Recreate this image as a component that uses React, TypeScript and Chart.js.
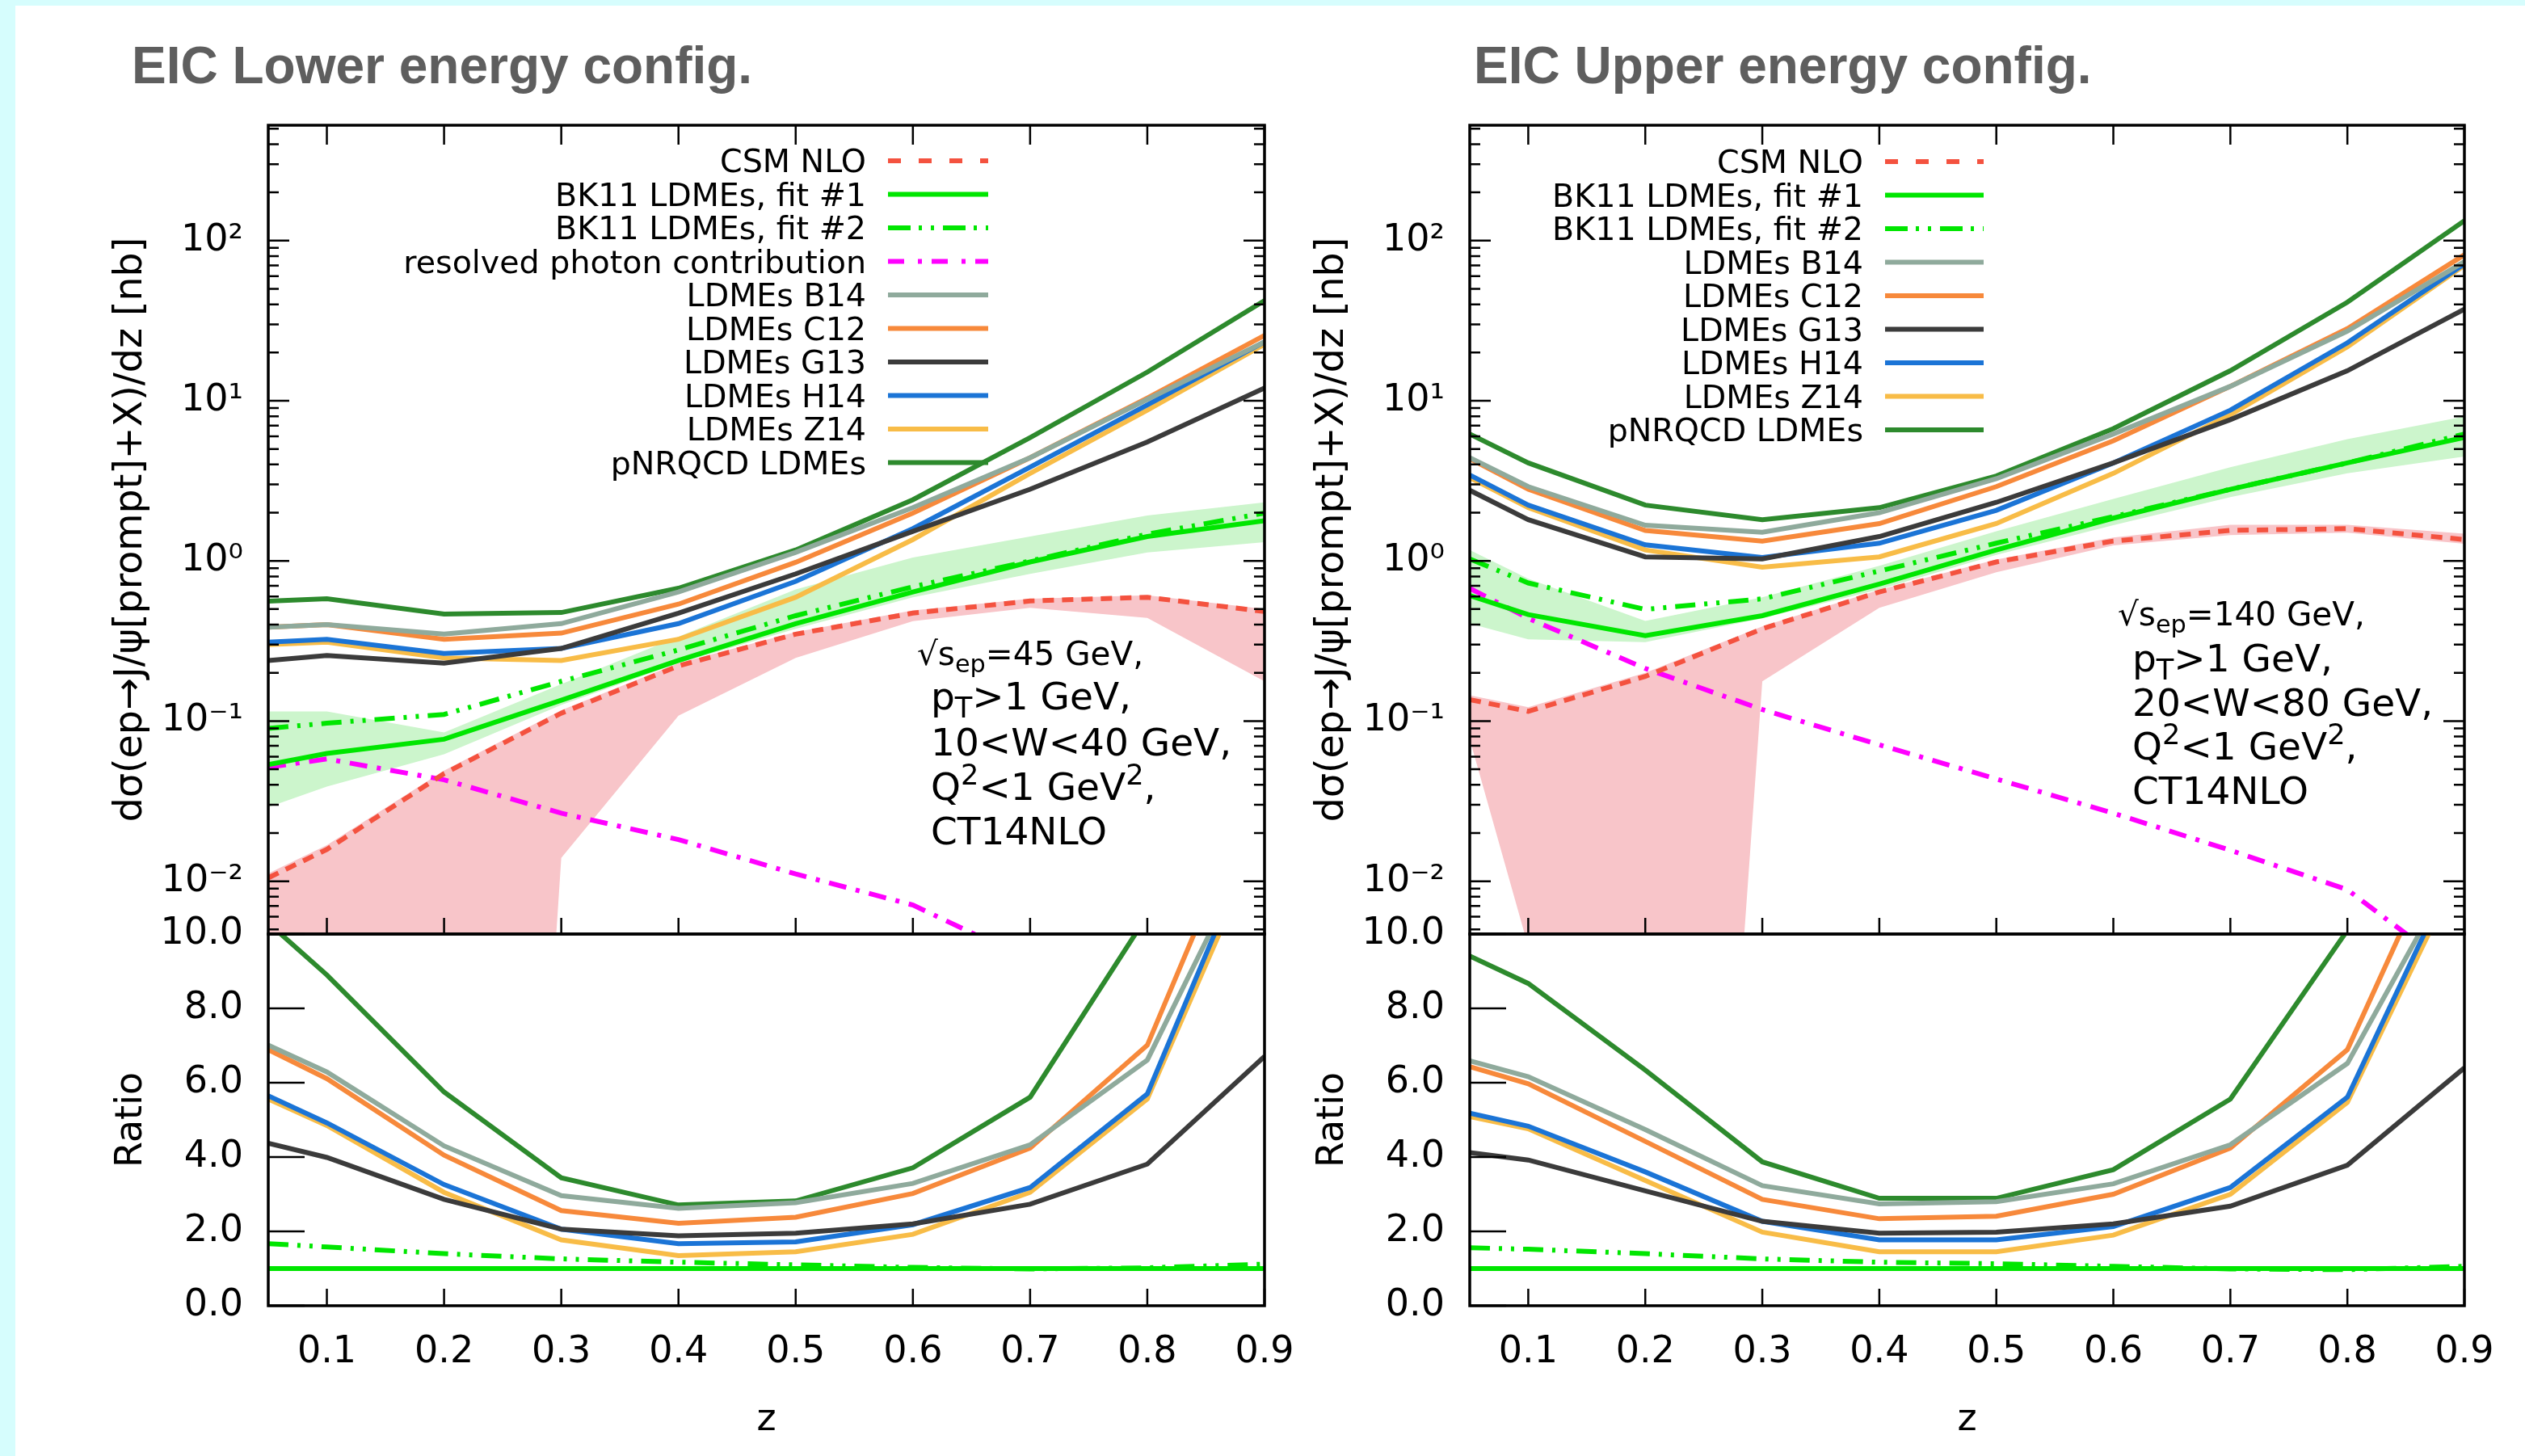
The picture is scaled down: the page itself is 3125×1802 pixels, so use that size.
import React, { useEffect, useRef } from 'react';
import { Chart, registerables } from 'chart.js';

Chart.register(...registerables);

// ---------------- data ----------------
const zValues = [0.05, 0.1, 0.2, 0.3, 0.4, 0.5, 0.6, 0.7, 0.8, 0.9];
const zRange = [0.05, 0.9];
const logRange = [0.00468, 525];
const ratioRange = [0, 10];

const xTickValues = [0.1, 0.2, 0.3, 0.4, 0.5, 0.6, 0.7, 0.8, 0.9];
const xTickLabels = ['0.1', '0.2', '0.3', '0.4', '0.5', '0.6', '0.7', '0.8', '0.9'];
const logTickValues = [0.01, 0.1, 1, 10, 100];
const logTickLabels = ['10⁻²', '10⁻¹', '10⁰', '10¹', '10²'];
const ratioTickValues = [0, 2, 4, 6, 8, 10];
const ratioTickLabels = ['0.0', '2.0', '4.0', '6.0', '8.0', '10.0'];

const panelTitles = ['EIC Lower energy config.', 'EIC Upper energy config.'];
const yTitleTop = 'dσ(ep→J/ψ[prompt]+X)/dz [nb]';
const yTitleRatio = 'Ratio';
const xTitle = 'z';

const seriesLabels = {
  csm: 'CSM NLO',
  fit1: 'BK11 LDMEs, fit #1',
  fit2: 'BK11 LDMEs, fit #2',
  resolved: 'resolved photon contribution',
  b14: 'LDMEs B14',
  c12: 'LDMEs C12',
  g13: 'LDMEs G13',
  h14: 'LDMEs H14',
  z14: 'LDMEs Z14',
  pnr: 'pNRQCD LDMEs',
};

// Lower energy (sqrt s = 45 GeV), cross sections [nb]
const csmLower = [0.0105, 0.0158, 0.047, 0.112, 0.221, 0.349, 0.472, 0.562, 0.593, 0.483];
const csmBandUpLower = [0.0112, 0.0168, 0.049, 0.117, 0.23, 0.36, 0.49, 0.58, 0.61, 0.5];
const csmBandLoLower = [0.0001, 0.0001, 1e-13, 0.014, 0.108, 0.248, 0.42, 0.51, 0.44, 0.177];
const fit1Lower = [0.0535, 0.0628, 0.077, 0.135, 0.239, 0.406, 0.64, 0.985, 1.42, 1.78];
const fit1BandUpLower = [0.115, 0.115, 0.085, 0.17, 0.336, 0.664, 1.05, 1.42, 1.92, 2.32];
const fit1BandLoLower = [0.029, 0.039, 0.062, 0.126, 0.23, 0.377, 0.593, 0.83, 1.13, 1.31];
const fit2Lower = [0.09, 0.097, 0.11, 0.177, 0.278, 0.455, 0.69, 1.0, 1.47, 1.99];
const resolvedLower = [0.0515, 0.058, 0.043, 0.0266, 0.0182, 0.0111, 0.0071, 0.0032, 0.0013, 0.0005];
const b14Lower = [0.386, 0.4, 0.349, 0.406, 0.64, 1.13, 2.15, 4.41, 10.2, 23.3];
const c12Lower = [0.386, 0.4, 0.324, 0.354, 0.537, 0.98, 1.99, 4.41, 10.4, 25.6];
const g13Lower = [0.239, 0.257, 0.23, 0.284, 0.472, 0.83, 1.53, 2.8, 5.53, 12.0];
const h14Lower = [0.311, 0.324, 0.264, 0.284, 0.406, 0.745, 1.59, 3.85, 9.42, 23.3];
const z14Lower = [0.3, 0.311, 0.248, 0.239, 0.324, 0.593, 1.36, 3.52, 8.73, 22.5];
const pnrLower = [0.56, 0.58, 0.466, 0.476, 0.675, 1.17, 2.41, 5.89, 15.1, 42.2];

// Lower energy ratios
const ratioFit1Lower = [1, 1, 1, 1, 1, 1, 1, 1, 1, 1];
const ratioFit2Lower = [1.67, 1.58, 1.4, 1.26, 1.17, 1.1, 1.03, 0.99, 1.02, 1.12];
const ratioB14Lower = [7.01, 6.29, 4.3, 2.96, 2.62, 2.77, 3.29, 4.33, 6.61, 13.0];
const ratioC12Lower = [6.89, 6.11, 4.05, 2.56, 2.22, 2.38, 3.02, 4.24, 7.01, 14.5];
const ratioG13Lower = [4.37, 3.99, 2.86, 2.06, 1.88, 1.95, 2.2, 2.73, 3.81, 6.71];
const ratioH14Lower = [5.65, 4.92, 3.26, 2.06, 1.67, 1.72, 2.18, 3.18, 5.7, 13.2];
const ratioZ14Lower = [5.56, 4.85, 3.05, 1.77, 1.35, 1.45, 1.92, 3.05, 5.56, 12.8];
const ratioPnrLower = [10.3, 8.9, 5.75, 3.44, 2.71, 2.82, 3.71, 5.61, 10.5, 23.7];

// Upper energy (sqrt s = 140 GeV), cross sections [nb]
const csmUpper = [0.136, 0.115, 0.19, 0.377, 0.64, 0.985, 1.33, 1.55, 1.59, 1.36];
const csmBandUpUpper = [0.145, 0.122, 0.2, 0.39, 0.66, 1.02, 1.4, 1.68, 1.68, 1.48];
const csmBandLoUpper = [0.077, 0.0039, 1e-11, 0.177, 0.51, 0.85, 1.25, 1.45, 1.5, 1.28];
const fit1Upper = [0.607, 0.462, 0.341, 0.455, 0.716, 1.17, 1.85, 2.8, 4.09, 5.89];
const fit1BandUpUpper = [1.17, 0.773, 0.422, 0.593, 0.933, 1.53, 2.44, 3.85, 5.75, 7.96];
const fit1BandLoUpper = [0.406, 0.324, 0.311, 0.438, 0.664, 1.09, 1.67, 2.5, 3.52, 4.48];
const fit2Upper = [1.03, 0.728, 0.498, 0.58, 0.865, 1.29, 1.89, 2.8, 4.09, 6.2];
const resolvedUpper = [0.674, 0.438, 0.213, 0.118, 0.0711, 0.0435, 0.0266, 0.0156, 0.00885, 0.0025];
const b14Upper = [4.41, 2.91, 1.67, 1.51, 2.0, 3.26, 6.2, 12.3, 27.2, 73.8];
const c12Upper = [4.35, 2.8, 1.55, 1.33, 1.71, 2.91, 5.62, 12.3, 28.2, 81.5];
const g13Upper = [2.76, 1.81, 1.06, 1.03, 1.42, 2.32, 4.09, 7.62, 15.4, 37.3];
const h14Upper = [3.44, 2.23, 1.26, 1.05, 1.29, 2.07, 4.09, 8.73, 23.0, 71.6];
const z14Upper = [3.31, 2.15, 1.17, 0.914, 1.06, 1.71, 3.52, 8.2, 21.7, 70.0];
const pnrUpper = [6.2, 4.09, 2.23, 1.81, 2.15, 3.39, 6.7, 15.4, 41.2, 133];

// Upper energy ratios
const ratioFit1Upper = [1, 1, 1, 1, 1, 1, 1, 1, 1, 1];
const ratioFit2Upper = [1.56, 1.52, 1.4, 1.26, 1.17, 1.13, 1.06, 0.99, 0.97, 1.06];
const ratioB14Upper = [6.59, 6.16, 4.74, 3.23, 2.74, 2.8, 3.28, 4.33, 6.52, 12.2];
const ratioC12Upper = [6.43, 5.97, 4.42, 2.86, 2.34, 2.41, 3.0, 4.24, 6.89, 13.8];
const ratioG13Upper = [4.12, 3.92, 3.09, 2.27, 1.95, 1.98, 2.2, 2.68, 3.78, 6.4];
const ratioH14Upper = [5.18, 4.83, 3.6, 2.27, 1.77, 1.77, 2.13, 3.18, 5.61, 12.3];
const ratioZ14Upper = [5.09, 4.76, 3.37, 1.98, 1.45, 1.45, 1.9, 3.0, 5.47, 12.0];
const ratioPnrUpper = [9.41, 8.67, 6.34, 3.87, 2.89, 2.89, 3.66, 5.56, 10.1, 22.5];

// annotation texts: [text, 'sub'|'sup'|undefined]
const noteLower = [
  [['√s'], ['ep', 'sub'], ['=45 GeV,']],
  [['p'], ['T', 'sub'], ['>1 GeV,']],
  [['10<W<40 GeV,']],
  [['Q'], ['2', 'sup'], ['<1 GeV'], ['2', 'sup'], [',']],
  [['CT14NLO']],
];
const noteUpper = [
  [['√s'], ['ep', 'sub'], ['=140 GeV,']],
  [['p'], ['T', 'sub'], ['>1 GeV,']],
  [['20<W<80 GeV,']],
  [['Q'], ['2', 'sup'], ['<1 GeV'], ['2', 'sup'], [',']],
  [['CT14NLO']],
];

// ---------------- styles ----------------
const FONT = '"DejaVu Sans", "Noto Sans", sans-serif';
const CYAN = '#d6fdfd';
const PINK = '#f8c5c9';
const LIGHTGREEN = '#ccf5cc';
const LW = 6;
const STYLE: any = {
  csm: { color: '#f4523f', dash: [14, 10], legendDash: [16, 22] },
  fit1: { color: '#00e600', dash: [] },
  fit2: { color: '#00e600', dash: [25, 11, 4, 11, 4, 11], legendDash: [28, 10, 4, 11, 4, 11] },
  resolved: { color: '#ff00ff', dash: [22, 12, 5, 12], legendDash: [20, 17, 5, 12] },
  b14: { color: '#8faa9c', dash: [] },
  c12: { color: '#f7893b', dash: [] },
  g13: { color: '#3b3b3b', dash: [] },
  h14: { color: '#1b74d6', dash: [] },
  z14: { color: '#f8bc47', dash: [] },
  pnr: { color: '#2d8a2d', dash: [] },
};

const AXIS_W = 312;
const PAD_V = 64;
const PAD_R = 80;
const LEGEND_FONT = 39.6;
const NOTE_FONT_FIRST = 40.5;
const NOTE_FONT = 47;

function pts(vals: number[]) {
  return zValues.map((x, i) => ({ x, y: vals[i] }));
}

function lineDs(key: string, vals: number[], legend: boolean) {
  const st = STYLE[key];
  return {
    label: (seriesLabels as any)[key],
    data: pts(vals),
    borderColor: st.color,
    backgroundColor: st.color,
    borderWidth: LW,
    borderDash: st.dash,
    legendDash: st.legendDash || st.dash,
    pointRadius: 0,
    pointHoverRadius: 0,
    fill: false,
    tension: 0,
    legend,
  };
}

function bandDs(up: number[], lo: number[], color: string) {
  return [
    { label: '', data: pts(up), borderWidth: 0, borderColor: 'rgba(0,0,0,0)', backgroundColor: color, pointRadius: 0, fill: '+1', tension: 0, legend: false },
    { label: '', data: pts(lo), borderWidth: 0, borderColor: 'rgba(0,0,0,0)', backgroundColor: color, pointRadius: 0, fill: false, tension: 0, legend: false },
  ];
}

function makeDeco(cfg: any) {
  return {
    id: 'deco',
    afterDatasetsDraw(chart: any) {
      const ctx = chart.ctx;
      const a = chart.chartArea;
      const xs = chart.scales.x;
      const ys = chart.scales.y;
      ctx.save();
      ctx.strokeStyle = '#000';
      ctx.lineWidth = 2.5;
      ctx.setLineDash([]);
      ctx.beginPath();
      const seg = (x1: number, y1: number, x2: number, y2: number) => {
        ctx.moveTo(x1, y1);
        ctx.lineTo(x2, y2);
      };
      if (cfg.kind === 'top') {
        for (const v of xTickValues) {
          const px = xs.getPixelForValue(v);
          seg(px, a.bottom, px, a.bottom - 20);
          seg(px, a.top, px, a.top + 24);
        }
        for (let e = -3; e <= 3; e++) {
          for (let k = 1; k <= 9; k++) {
            const v = k * Math.pow(10, e);
            if (v < logRange[0] || v > logRange[1]) continue;
            const py = ys.getPixelForValue(v);
            const len = k === 1 ? 26 : 13;
            seg(a.left, py, a.left + len, py);
            seg(a.right, py, a.right - len, py);
          }
        }
      } else {
        for (const v of xTickValues) {
          const px = xs.getPixelForValue(v);
          seg(px, a.bottom, px, a.bottom - 21);
        }
        for (const v of ratioTickValues) {
          const py = ys.getPixelForValue(v);
          seg(a.left, py, a.left + 45, py);
        }
      }
      ctx.stroke();
      ctx.lineWidth = 3.5;
      ctx.strokeRect(a.left, a.top, a.right - a.left, a.bottom - a.top);

      if (cfg.legend) {
        const L = cfg.legend;
        const items = chart.data.datasets.filter((d: any) => d.legend);
        items.forEach((d: any, i: number) => {
          const y = a.top + L.top + i * L.step;
          ctx.font = `${LEGEND_FONT}px ${FONT}`;
          ctx.textAlign = 'right';
          ctx.textBaseline = 'alphabetic';
          ctx.fillStyle = '#000';
          ctx.fillText(d.label, a.left + L.textRight, y + 14);
          ctx.save();
          ctx.strokeStyle = d.borderColor;
          ctx.lineWidth = LW;
          ctx.setLineDash(d.legendDash || []);
          ctx.beginPath();
          ctx.moveTo(a.left + L.x0, y);
          ctx.lineTo(a.left + L.x1, y);
          ctx.stroke();
          ctx.restore();
        });
      }

      if (cfg.note) {
        const N = cfg.note;
        ctx.fillStyle = '#000';
        ctx.textAlign = 'left';
        ctx.textBaseline = 'alphabetic';
        N.lines.forEach((line: any[], i: number) => {
          let x = a.left + (i === 0 ? N.x0 : N.x1);
          const base = a.top + N.baselines[i];
          const size = i === 0 ? NOTE_FONT_FIRST : NOTE_FONT;
          for (const part of line) {
            const kind = part[1];
            const s = kind ? size * 0.75 : size;
            const dy = kind === 'sub' ? size * 0.22 : kind === 'sup' ? -size * 0.4 : 0;
            ctx.font = `${s}px ${FONT}`;
            ctx.fillText(part[0], x, base + dy);
            x += ctx.measureText(part[0]).width;
          }
        });
      }
      ctx.restore();
    },
  };
}

function labelFor(values: number[], labels: string[], v: number) {
  const i = values.findIndex((t) => Math.abs(t - v) <= Math.abs(t) * 1e-6 + 1e-9);
  return i >= 0 ? labels[i] : '';
}

function topConfig(p: any) {
  const datasets = [
    lineDs('csm', p.csm, true),
    lineDs('fit1', p.fit1, true),
    lineDs('fit2', p.fit2, true),
    lineDs('resolved', p.resolved, p.resolvedInLegend),
    lineDs('b14', p.b14, true),
    lineDs('c12', p.c12, true),
    lineDs('g13', p.g13, true),
    lineDs('h14', p.h14, true),
    lineDs('z14', p.z14, true),
    lineDs('pnr', p.pnr, true),
    ...bandDs(p.csmUp, p.csmLo, PINK),
    ...bandDs(p.fitUp, p.fitLo, LIGHTGREEN),
  ];
  return {
    type: 'line',
    data: { datasets },
    options: {
      animation: false,
      responsive: false,
      events: [],
      layout: { padding: { left: 0, right: PAD_R, top: PAD_V, bottom: PAD_V } },
      scales: {
        x: { type: 'linear', min: zRange[0], max: zRange[1], display: false },
        y: {
          type: 'logarithmic',
          position: 'left',
          min: logRange[0],
          max: logRange[1],
          afterFit: (s: any) => { s.width = AXIS_W; },
          afterBuildTicks: (s: any) => { s.ticks = logTickValues.map((value) => ({ value })); },
          grid: { display: false, drawTicks: false },
          border: { display: false },
          ticks: {
            autoSkip: false,
            padding: 31,
            color: '#000',
            font: { size: 46, family: FONT },
            callback: (v: any) => labelFor(logTickValues, logTickLabels, Number(v)),
          },
          title: { display: true, text: yTitleTop, color: '#000', font: { size: 47.5, family: FONT }, padding: { top: 114, bottom: 0 } },
        },
      },
      plugins: {
        legend: { display: false },
        tooltip: { enabled: false },
        filler: { drawTime: 'beforeDatasetsDraw' },
      },
    },
    plugins: [makeDeco({ kind: 'top', legend: p.legend, note: p.note })],
  };
}

function ratioConfig(p: any) {
  const datasets = [
    lineDs('fit1', p.fit1, false),
    lineDs('fit2', p.fit2, false),
    lineDs('b14', p.b14, false),
    lineDs('c12', p.c12, false),
    lineDs('g13', p.g13, false),
    lineDs('h14', p.h14, false),
    lineDs('z14', p.z14, false),
    lineDs('pnr', p.pnr, false),
  ];
  return {
    type: 'line',
    data: { datasets },
    options: {
      animation: false,
      responsive: false,
      events: [],
      layout: { padding: { left: 0, right: PAD_R, top: PAD_V, bottom: 0 } },
      scales: {
        x: {
          type: 'linear',
          min: zRange[0],
          max: zRange[1],
          afterFit: (s: any) => { s.height = 186; },
          afterBuildTicks: (s: any) => { s.ticks = xTickValues.map((value) => ({ value })); },
          grid: { display: false, drawTicks: false },
          border: { display: false },
          ticks: {
            autoSkip: false,
            maxRotation: 0,
            padding: 30,
            color: '#000',
            font: { size: 46, family: FONT },
            callback: (v: any) => labelFor(xTickValues, xTickLabels, Number(v)),
          },
          title: { display: true, text: xTitle, color: '#000', font: { size: 46, family: FONT }, padding: { top: 0, bottom: 16 } },
        },
        y: {
          type: 'linear',
          position: 'left',
          min: ratioRange[0],
          max: ratioRange[1],
          afterFit: (s: any) => { s.width = AXIS_W; },
          afterBuildTicks: (s: any) => { s.ticks = ratioTickValues.map((value) => ({ value })); },
          grid: { display: false, drawTicks: false },
          border: { display: false },
          ticks: {
            autoSkip: false,
            padding: 31,
            color: '#000',
            font: { size: 46, family: FONT },
            callback: (v: any) => labelFor(ratioTickValues, ratioTickLabels, Number(v)),
          },
          title: { display: true, text: yTitleRatio, color: '#000', font: { size: 46, family: FONT }, padding: { top: 115, bottom: 0 } },
        },
      },
      plugins: {
        legend: { display: false },
        tooltip: { enabled: false },
      },
    },
    plugins: [makeDeco({ kind: 'ratio' })],
  };
}

const lowerTop = {
  csm: csmLower, csmUp: csmBandUpLower, csmLo: csmBandLoLower,
  fit1: fit1Lower, fitUp: fit1BandUpLower, fitLo: fit1BandLoLower,
  fit2: fit2Lower, resolved: resolvedLower, resolvedInLegend: true,
  b14: b14Lower, c12: c12Lower, g13: g13Lower, h14: h14Lower, z14: z14Lower, pnr: pnrLower,
  legend: { textRight: 740, x0: 767, x1: 891, top: 44, step: 41.5 },
  note: { lines: noteLower, x0: 803, x1: 820, baselines: [668, 723, 780, 835, 890] },
};
const upperTop = {
  csm: csmUpper, csmUp: csmBandUpUpper, csmLo: csmBandLoUpper,
  fit1: fit1Upper, fitUp: fit1BandUpUpper, fitLo: fit1BandLoUpper,
  fit2: fit2Upper, resolved: resolvedUpper, resolvedInLegend: false,
  b14: b14Upper, c12: c12Upper, g13: g13Upper, h14: h14Upper, z14: z14Upper, pnr: pnrUpper,
  legend: { textRight: 487, x0: 514, x1: 636, top: 45, step: 41.5 },
  note: { lines: noteUpper, x0: 802, x1: 820, baselines: [619, 676, 731, 785, 840] },
};
const lowerRatio = {
  fit1: ratioFit1Lower, fit2: ratioFit2Lower, b14: ratioB14Lower, c12: ratioC12Lower,
  g13: ratioG13Lower, h14: ratioH14Lower, z14: ratioZ14Lower, pnr: ratioPnrLower,
};
const upperRatio = {
  fit1: ratioFit1Upper, fit2: ratioFit2Upper, b14: ratioB14Upper, c12: ratioC12Upper,
  g13: ratioG13Upper, h14: ratioH14Upper, z14: ratioZ14Upper, pnr: ratioPnrUpper,
};

// plot-area geometry (page pixels)
const AREA_TOP = 155;
const AREA_MID = 1156;
const PAGE_H = 1802;
const LEFT_AREA = [332, 1565];
const RIGHT_AREA = [1819, 3050];

function ChartBox({ make, left, top, width, height }: any) {
  const ref = useRef<HTMLCanvasElement>(null);
  useEffect(() => {
    const chart = new Chart(ref.current as HTMLCanvasElement, make());
    return () => chart.destroy();
  }, []);
  return (
    <canvas
      ref={ref}
      width={width}
      height={height}
      style={{ position: 'absolute', left, top, width, height }}
    />
  );
}

function PanelTitle({ text, left }: any) {
  return (
    <div
      style={{
        position: 'absolute',
        left,
        top: 49,
        font: 'bold 64px "Liberation Sans", Arial, sans-serif',
        lineHeight: '64px',
        color: '#5e5e5e',
        whiteSpace: 'nowrap',
      }}
    >
      {text}
    </div>
  );
}

function Panel({ area, topData, ratioData }: any) {
  const left = area[0] - AXIS_W;
  const width = area[1] - left + PAD_R;
  const topCanvasTop = AREA_TOP - PAD_V;
  const topCanvasH = AREA_MID - AREA_TOP + 2 * PAD_V;
  const ratioCanvasTop = AREA_MID - PAD_V;
  const ratioCanvasH = PAGE_H - ratioCanvasTop;
  return (
    <>
      <ChartBox make={() => topConfig(topData)} left={left} top={topCanvasTop} width={width} height={topCanvasH} />
      <ChartBox make={() => ratioConfig(ratioData)} left={left} top={ratioCanvasTop} width={width} height={ratioCanvasH} />
    </>
  );
}

export default function App() {
  return (
    <div style={{ position: 'fixed', left: 0, top: 0, width: 3125, height: PAGE_H, overflow: 'hidden', background: CYAN }}>
      <div style={{ position: 'absolute', left: 19, top: 7, right: 0, bottom: 0, background: '#fff' }} />
      <PanelTitle text={panelTitles[0]} left={163} />
      <PanelTitle text={panelTitles[1]} left={1824} />
      <Panel area={LEFT_AREA} topData={lowerTop} ratioData={lowerRatio} />
      <Panel area={RIGHT_AREA} topData={upperTop} ratioData={upperRatio} />
    </div>
  );
}
